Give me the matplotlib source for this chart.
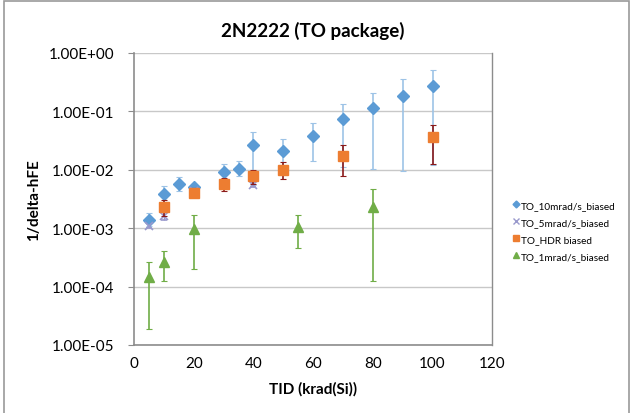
import matplotlib
matplotlib.use("Agg")
import matplotlib.pyplot as plt
from matplotlib.lines import Line2D
import numpy as np

plt.rcParams['font.family'] = ['Lato', 'DejaVu Sans']

# TO_10mrad/s_biased
x10 = [5, 10, 15, 20, 30, 35, 40, 50, 60, 70, 80, 90, 100]
y10 = [1.4e-3, 3.8e-3, 5.7e-3, 5.0e-3, 9.0e-3, 1.05e-2, 2.7e-2, 2.1e-2, 3.8e-2, 7.5e-2, 0.115, 0.185, 0.27]
lo10 = [1.1e-3, 2.8e-3, 4.4e-3, 4.3e-3, 6.5e-3, 7.8e-3, 5.5e-3, 9.0e-3, 1.4e-2, 1.1e-2, 1.05e-2, 9.5e-3, 1.2e-2]
hi10 = [1.8e-3, 5.3e-3, 7.4e-3, 5.8e-3, 1.25e-2, 1.4e-2, 4.4e-2, 3.4e-2, 6.3e-2, 0.135, 0.21, 0.36, 0.52]

# TO_5mrad/s_biased
x5 = [5, 10, 20, 40]
y5 = [1.1e-3, 1.6e-3, 4.4e-3, 5.5e-3]
lo5 = [1.0e-3, 1.4e-3, 4.0e-3, 5.0e-3]
hi5 = [1.25e-3, 1.9e-3, 4.9e-3, 6.1e-3]

# TO_HDR biased
xh = [10, 20, 30, 40, 50, 70, 100]
yh = [2.3e-3, 4.0e-3, 5.7e-3, 7.8e-3, 9.8e-3, 1.75e-2, 3.7e-2]
loh = [1.6e-3, 3.4e-3, 4.4e-3, 5.6e-3, 7.0e-3, 7.8e-3, 1.25e-2]
hih = [3.0e-3, 4.8e-3, 7.2e-3, 9.8e-3, 1.35e-2, 2.7e-2, 5.9e-2]

# TO_1mrad/s_biased
x1 = [5, 10, 20, 55, 80]
y1 = [1.45e-4, 2.6e-4, 9.5e-4, 1.05e-3, 2.3e-3]
lo1 = [1.9e-5, 1.25e-4, 2.0e-4, 4.5e-4, 1.25e-4]
hi1 = [2.6e-4, 4.0e-4, 1.7e-3, 1.65e-3, 4.6e-3]

labels = ['TO_10mrad/s_biased', 'TO_5mrad/s_biased', 'TO_HDR biased', 'TO_1mrad/s_biased']
xticks = [0, 20, 40, 60, 80, 100, 120]
yticks = [1e-5, 1e-4, 1e-3, 1e-2, 1e-1, 1e0]
ylabels = ['1.00E-05', '1.00E-04', '1.00E-03', '1.00E-02', '1.00E-01', '1.00E+00']

def err(y, lo, hi):
    y = np.array(y); return [y - np.array(lo), np.array(hi) - y]

fig = plt.figure(figsize=(6.34, 4.14), dpi=100)
fig.patches.append(plt.Rectangle((0.007, -0.01), 0.985, 1.005, transform=fig.transFigure,
                                 fill=False, edgecolor='#9a9a9a', linewidth=1.2))
ax = fig.add_axes([0.2114, 0.1643, 0.565, 0.7053])

c10, c5, ch, c1 = '#5B9BD5', '#9999CC', '#ED7D31', '#70AD47'
ax.errorbar(x10, y10, yerr=err(y10, lo10, hi10), fmt='D', color=c10, ms=6,
            ecolor='#9DC3E6', elinewidth=1.2, capsize=2, capthick=0.8, zorder=3)
ax.errorbar(x5, y5, yerr=err(y5, lo5, hi5), fmt='x', color=c5, ms=6, mew=1.2,
            ecolor=c5, elinewidth=1.0, capsize=2, zorder=3)
ax.errorbar(xh, yh, yerr=err(yh, loh, hih), fmt='s', color=ch, ms=7,
            ecolor='#8B1A1A', elinewidth=1.2, capsize=2, capthick=0.8, zorder=4)
ax.errorbar(x1, y1, yerr=err(y1, lo1, hi1), fmt='^', color=c1, ms=7,
            ecolor=c1, elinewidth=1.2, capsize=2, capthick=0.8, zorder=3)

ax.set_yscale('log')
ax.set_ylim(1e-5, 1e0)
ax.set_xlim(0, 120)
ax.set_xticks(xticks)
ax.set_xticklabels([str(t) for t in xticks], fontsize=11)
ax.set_yticks(yticks)
ax.set_yticklabels(ylabels, fontsize=11)
ax.minorticks_off()
ax.yaxis.grid(True, color='#c8c8c8', linewidth=1.0)
ax.set_axisbelow(True)
for s in ['left', 'bottom']:
    ax.spines[s].set_color('#8c8c8c'); ax.spines[s].set_linewidth(1.2)
ax.spines['top'].set_visible(False)
ax.spines['right'].set_color('#8c8c8c'); ax.spines['right'].set_linewidth(1.0)
ax.tick_params(axis='y', length=4, color='#8c8c8c', pad=10)
ax.tick_params(axis='x', length=0, pad=8)

ax.set_title('2N2222 (TO package)', fontsize=13.5, fontweight='bold', pad=12)
ax.set_xlabel('TID (krad(Si))', fontsize=11, fontweight='bold', labelpad=8)
ax.set_ylabel('1/delta-hFE', fontsize=11, fontweight='bold', labelpad=6)

handles = [Line2D([], [], ls='none', marker='D', color=c10, ms=3.5),
           Line2D([], [], ls='none', marker='x', color=c5, ms=4, mew=1.0),
           Line2D([], [], ls='none', marker='s', color=ch, ms=4.5),
           Line2D([], [], ls='none', marker='^', color=c1, ms=4.5)]
fig.legend(handles, labels, loc='center left', bbox_to_anchor=(0.808, 0.44), fontsize=7.2,
           frameon=False, handletextpad=0.1, handlelength=0.8, labelspacing=0.8,
           borderaxespad=0, borderpad=0)

fig.savefig('out.png', dpi=100)
